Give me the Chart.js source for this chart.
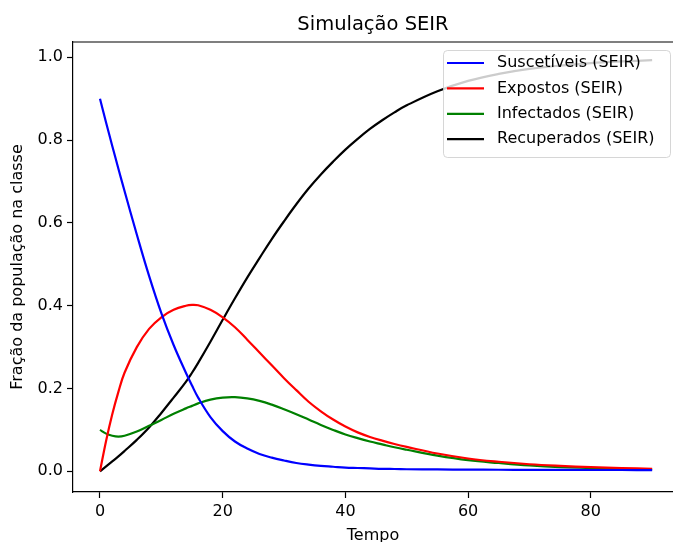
<!DOCTYPE html>
<html>
<head>
<meta charset="utf-8">
<script src="https://cdn.jsdelivr.net/npm/chart.js@4.4.0/dist/chart.umd.min.js"></script>
<style>
html, body { margin: 0; padding: 0; background: #fff; overflow: hidden; }
canvas { display: block; }
</style>
</head>
<body>
<canvas id="seir-chart" width="673" height="542"></canvas>
<script>
// dados (tempo x fração)
const tempo = [0, 1, 2, 3, 4, 6, 8, 10, 12, 14, 15, 16, 18, 20, 22, 24, 26, 28, 30, 32, 34, 36, 38, 40,
  42, 44, 46, 48, 50, 55, 60, 65, 70, 75, 80, 85, 90];

const suscetiveis = [0.900, 0.842, 0.786, 0.731, 0.677, 0.572, 0.472, 0.382, 0.305, 0.238, 0.207, 0.178,
  0.131, 0.097, 0.072, 0.055, 0.042, 0.033, 0.026, 0.020, 0.016, 0.013, 0.011, 0.009,
  0.008, 0.007, 0.006, 0.0055, 0.005, 0.0045, 0.004, 0.0037, 0.0035, 0.0033, 0.0032, 0.0031, 0.003];

const expostos = [0, 0.074, 0.138, 0.192, 0.238, 0.300, 0.344, 0.372, 0.390, 0.400, 0.402, 0.401,
  0.390, 0.372, 0.348, 0.318, 0.287, 0.256, 0.225, 0.196, 0.168, 0.145, 0.125, 0.108,
  0.094, 0.083, 0.074, 0.066, 0.059, 0.043, 0.031, 0.023, 0.017, 0.013, 0.010, 0.008, 0.006];

const infectados = [0.100, 0.091, 0.086, 0.084, 0.086, 0.096, 0.110, 0.124, 0.139, 0.152, 0.158, 0.164,
  0.173, 0.178, 0.179, 0.176, 0.170, 0.161, 0.150, 0.138, 0.125, 0.112, 0.100, 0.089,
  0.080, 0.072, 0.065, 0.058, 0.052, 0.038, 0.027, 0.020, 0.014, 0.010, 0.008, 0.006, 0.004];

const recuperados = [0, 0.012, 0.024, 0.036, 0.049, 0.076, 0.106, 0.141, 0.178, 0.216, 0.238, 0.262,
  0.313, 0.366, 0.418, 0.468, 0.515, 0.561, 0.604, 0.645, 0.683, 0.717, 0.748, 0.777,
  0.803, 0.827, 0.848, 0.867, 0.884, 0.918, 0.943, 0.960, 0.972, 0.980, 0.986, 0.990, 0.993];

const rotulos = ['Suscetíveis (SEIR)', 'Expostos (SEIR)', 'Infectados (SEIR)', 'Recuperados (SEIR)'];
const cores = ['#0000ff', '#ff0000', '#008000', '#000000'];

const xTicks = [0, 20, 40, 60, 80];
const yTicks = [0.0, 0.2, 0.4, 0.6, 0.8, 1.0];

const FONTE = "'DejaVu Sans', sans-serif";

function pontos(valores) {
  return tempo.map((t, i) => ({ x: t, y: valores[i] }));
}

const series = [suscetiveis, expostos, infectados, recuperados];

const data = {
  datasets: series.map((valores, i) => ({
    label: rotulos[i],
    data: pontos(valores),
    borderColor: cores[i],
    backgroundColor: cores[i],
    borderWidth: 2.2,
    pointRadius: 0,
    tension: 0.4,
    fill: false
  }))
};

// moldura superior e legenda no estilo matplotlib
const molduraLegenda = {
  id: 'molduraLegenda',
  afterDraw(chart) {
    const { ctx, chartArea } = chart;
    ctx.save();
    ctx.strokeStyle = '#000';
    ctx.lineWidth = 1.2;
    ctx.beginPath();
    ctx.moveTo(chartArea.left, chartArea.top);
    ctx.lineTo(chartArea.right, chartArea.top);
    ctx.stroke();

    // caixa da legenda
    const bx = 443, by = 50, bw = 227, bh = 107, r = 4;
    ctx.fillStyle = 'rgba(255,255,255,0.8)';
    ctx.strokeStyle = 'rgba(204,204,204,0.8)';
    ctx.lineWidth = 1;
    ctx.beginPath();
    ctx.roundRect(bx + 0.5, by + 0.5, bw, bh, r);
    ctx.fill();
    ctx.stroke();

    ctx.font = '16px ' + FONTE;
    ctx.textBaseline = 'middle';
    ctx.textAlign = 'left';
    chart.data.datasets.forEach((ds, i) => {
      const y = 63 + i * 25.4;
      ctx.strokeStyle = ds.borderColor;
      ctx.lineWidth = 2.2;
      ctx.beginPath();
      ctx.moveTo(447, y);
      ctx.lineTo(484, y);
      ctx.stroke();
      ctx.fillStyle = '#000';
      ctx.fillText(ds.label, 497, y);
    });
    ctx.restore();
  }
};

const gradeEixo = {
  drawOnChartArea: false,
  drawTicks: true,
  tickLength: 6,
  tickColor: '#000',
  tickWidth: 1.2,
  color: '#000'
};

const options = {
  responsive: false,
  animation: false,
  layout: { padding: 0 },
  plugins: {
    legend: { display: false },
    tooltip: { enabled: false },
    title: {
      display: true,
      text: 'Simulação SEIR',
      fullSize: false,
      color: '#000',
      font: { family: FONTE, size: 19.5, weight: 'normal' },
      padding: { top: 13, bottom: 5.6 }
    }
  },
  scales: {
    x: {
      type: 'linear',
      min: -4.4,
      max: 93.4,
      afterBuildTicks: (scale) => { scale.ticks = xTicks.map(v => ({ value: v })); },
      afterFit: (scale) => { scale.height = 50; },
      ticks: {
        color: '#000',
        padding: 4,
        font: { family: FONTE, size: 16 },
        callback: (v) => String(v)
      },
      grid: gradeEixo,
      border: { display: true, color: '#000', width: 1.2 },
      title: {
        display: true,
        text: 'Tempo',
        color: '#000',
        font: { family: FONTE, size: 16 },
        padding: { top: 0, bottom: -3 }
      }
    },
    y: {
      type: 'linear',
      min: -0.05,
      max: 1.037,
      afterBuildTicks: (scale) => { scale.ticks = yTicks.map(v => ({ value: v })); },
      afterFit: (scale) => { scale.width = 73; },
      ticks: {
        color: '#000',
        padding: 4,
        font: { family: FONTE, size: 16 },
        callback: (v) => Number(v).toFixed(1)
      },
      grid: gradeEixo,
      border: { display: true, color: '#000', width: 1.2 },
      title: {
        display: true,
        text: 'Fração da população na classe',
        color: '#000',
        font: { family: FONTE, size: 16 },
        padding: { top: 8, bottom: 0 }
      }
    }
  }
};

const ctx = document.getElementById('seir-chart').getContext('2d');
const grafico = new Chart(ctx, {
  type: 'line',
  data: data,
  options: options,
  plugins: [molduraLegenda]
});
</script>
</body>
</html>
